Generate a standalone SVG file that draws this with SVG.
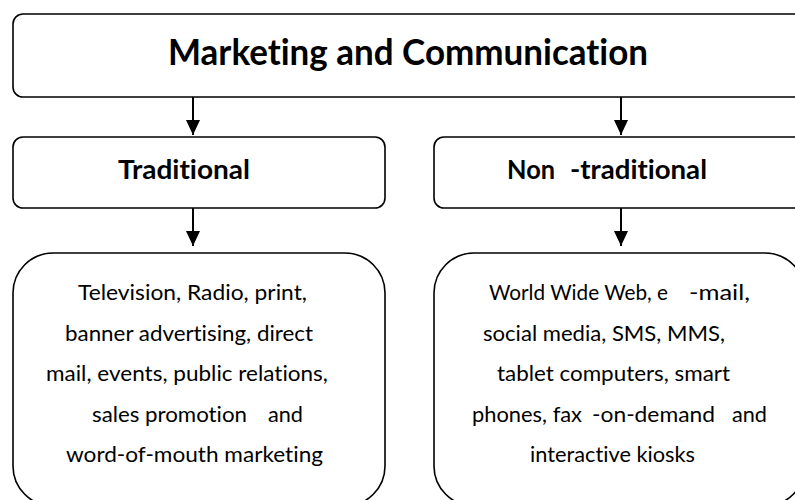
<svg xmlns="http://www.w3.org/2000/svg" width="795" height="500" viewBox="0 0 795 500">
<style>
.box{fill:#fff;stroke:#000;stroke-width:1.6}
.t{font-family:Lato,"Open Sans","Liberation Sans",sans-serif;fill:#000;white-space:pre;font-variant-ligatures:none}
.title{font-size:36px;font-weight:bold}
.sub{font-size:27px;font-weight:bold}
.body{font-size:22px}
.conn{stroke:#000;stroke-width:2;fill:none}
</style>
<defs>
<marker id="ah" viewBox="0 0 15 14" refX="15" refY="7" markerWidth="15" markerHeight="14" markerUnits="userSpaceOnUse" orient="auto">
<path d="M0,0 L15,7 L0,14 Z" fill="#000"/>
</marker>
</defs>
<rect width="795" height="500" fill="#fff"/>
<g id="connectors">
<line class="conn" x1="193" y1="97" x2="193" y2="135" marker-end="url(#ah)"/>
<line class="conn" x1="621" y1="97" x2="621" y2="135" marker-end="url(#ah)"/>
<line class="conn" x1="193" y1="208" x2="193" y2="246" marker-end="url(#ah)"/>
<line class="conn" x1="621" y1="208" x2="621" y2="246" marker-end="url(#ah)"/>
</g>
<g id="marketing">
<rect class="box" x="13" y="14" width="810" height="83" rx="10"/>
<text class="t title" x="168" y="65" textLength="480" lengthAdjust="spacingAndGlyphs">Marketing and Communication</text>
</g>
<g id="traditional">
<rect class="box" x="13" y="137" width="372" height="71" rx="10"/>
<text class="t sub" x="118" y="179" textLength="132" lengthAdjust="spacingAndGlyphs">Traditional</text>
</g>
<g id="nontraditional">
<rect class="box" x="434" y="137" width="390" height="71" rx="10"/>
<text class="t sub" x="507" y="179" textLength="48" lengthAdjust="spacingAndGlyphs">Non</text>
<text class="t sub" x="570" y="179" textLength="137" lengthAdjust="spacingAndGlyphs">-traditional</text>
</g>
<g id="traditional-media">
<rect class="box" x="13" y="253" width="372" height="253" rx="40"/>
<text class="t body" x="78" y="300" textLength="229" lengthAdjust="spacingAndGlyphs">Television, Radio, print,</text>
<text class="t body" x="65" y="341" textLength="248" lengthAdjust="spacingAndGlyphs">banner advertising, direct</text>
<text class="t body" x="46" y="381" textLength="282" lengthAdjust="spacingAndGlyphs">mail, events, public relations,</text>
<text class="t body" x="92" y="422" textLength="155" lengthAdjust="spacingAndGlyphs">sales promotion</text>
<text class="t body" x="268" y="422" textLength="35" lengthAdjust="spacingAndGlyphs">and</text>
<text class="t body" x="66" y="462" textLength="257" lengthAdjust="spacingAndGlyphs">word-of-mouth marketing</text>
</g>
<g id="nontraditional-media">
<rect class="box" x="434" y="253" width="371" height="253" rx="40"/>
<text class="t body" x="489" y="300" textLength="179" lengthAdjust="spacingAndGlyphs">World Wide Web, e</text>
<text class="t body" x="689" y="300" textLength="61" lengthAdjust="spacingAndGlyphs">-mail,</text>
<text class="t body" x="483" y="341" textLength="242" lengthAdjust="spacingAndGlyphs">social media, SMS, MMS,</text>
<text class="t body" x="497" y="381" textLength="233" lengthAdjust="spacingAndGlyphs">tablet computers, smart</text>
<text class="t body" x="472" y="422" textLength="110" lengthAdjust="spacingAndGlyphs">phones, fax</text>
<text class="t body" x="592" y="422" textLength="123" lengthAdjust="spacingAndGlyphs">-on-demand</text>
<text class="t body" x="732" y="422" textLength="35" lengthAdjust="spacingAndGlyphs">and</text>
<text class="t body" x="530" y="462" textLength="165" lengthAdjust="spacingAndGlyphs">interactive kiosks</text>
</g>
</svg>
